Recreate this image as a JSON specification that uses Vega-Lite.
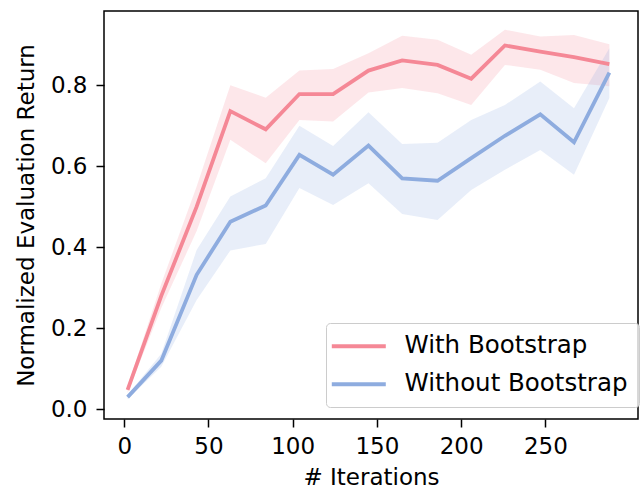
{
  "$schema": "https://vega.github.io/schema/vega-lite/v6.json",
  "width": 534,
  "height": 408,
  "autosize": {"type": "none"},
  "padding": {"left": 104, "top": 11, "right": 3, "bottom": 74},
  "background": "white",
  "config": {
    "font": "DejaVu Sans",
    "view": {"stroke": "black", "strokeWidth": 1.5},
    "axis": {
      "grid": false,
      "domain": false,
      "tickColor": "black",
      "tickWidth": 1.5,
      "tickSize": 8,
      "labelColor": "black",
      "labelFontSize": 23,
      "titleColor": "black",
      "titleFontSize": 23,
      "titleFontWeight": "normal"
    }
  },
  "data": {
    "values": [
      {"method": "With Bootstrap", "iter": 2, "mean": 0.048, "lo": 0.040, "hi": 0.056},
      {"method": "With Bootstrap", "iter": 22, "mean": 0.28, "lo": 0.25, "hi": 0.31},
      {"method": "With Bootstrap", "iter": 43, "mean": 0.50, "lo": 0.44, "hi": 0.55},
      {"method": "With Bootstrap", "iter": 63, "mean": 0.736, "lo": 0.665, "hi": 0.80},
      {"method": "With Bootstrap", "iter": 84, "mean": 0.691, "lo": 0.607, "hi": 0.769},
      {"method": "With Bootstrap", "iter": 104, "mean": 0.778, "lo": 0.714, "hi": 0.836},
      {"method": "With Bootstrap", "iter": 124, "mean": 0.778, "lo": 0.710, "hi": 0.840},
      {"method": "With Bootstrap", "iter": 145, "mean": 0.836, "lo": 0.782, "hi": 0.879},
      {"method": "With Bootstrap", "iter": 165, "mean": 0.861, "lo": 0.793, "hi": 0.922},
      {"method": "With Bootstrap", "iter": 186, "mean": 0.850, "lo": 0.780, "hi": 0.912},
      {"method": "With Bootstrap", "iter": 206, "mean": 0.816, "lo": 0.751, "hi": 0.875},
      {"method": "With Bootstrap", "iter": 226, "mean": 0.898, "lo": 0.850, "hi": 0.937},
      {"method": "With Bootstrap", "iter": 247, "mean": 0.883, "lo": 0.838, "hi": 0.920},
      {"method": "With Bootstrap", "iter": 267, "mean": 0.869, "lo": 0.805, "hi": 0.924},
      {"method": "With Bootstrap", "iter": 288, "mean": 0.852, "lo": 0.797, "hi": 0.901},
      {"method": "Without Bootstrap", "iter": 2, "mean": 0.030, "lo": 0.025, "hi": 0.035},
      {"method": "Without Bootstrap", "iter": 22, "mean": 0.12, "lo": 0.105, "hi": 0.137},
      {"method": "Without Bootstrap", "iter": 43, "mean": 0.332, "lo": 0.270, "hi": 0.393},
      {"method": "Without Bootstrap", "iter": 63, "mean": 0.463, "lo": 0.392, "hi": 0.525},
      {"method": "Without Bootstrap", "iter": 84, "mean": 0.503, "lo": 0.408, "hi": 0.570},
      {"method": "Without Bootstrap", "iter": 104, "mean": 0.628, "lo": 0.546, "hi": 0.700},
      {"method": "Without Bootstrap", "iter": 124, "mean": 0.579, "lo": 0.504, "hi": 0.650},
      {"method": "Without Bootstrap", "iter": 145, "mean": 0.651, "lo": 0.558, "hi": 0.733},
      {"method": "Without Bootstrap", "iter": 165, "mean": 0.570, "lo": 0.482, "hi": 0.655},
      {"method": "Without Bootstrap", "iter": 186, "mean": 0.564, "lo": 0.467, "hi": 0.658},
      {"method": "Without Bootstrap", "iter": 206, "mean": 0.620, "lo": 0.541, "hi": 0.714},
      {"method": "Without Bootstrap", "iter": 226, "mean": 0.675, "lo": 0.591, "hi": 0.751},
      {"method": "Without Bootstrap", "iter": 247, "mean": 0.728, "lo": 0.640, "hi": 0.809},
      {"method": "Without Bootstrap", "iter": 267, "mean": 0.659, "lo": 0.579, "hi": 0.743},
      {"method": "Without Bootstrap", "iter": 288, "mean": 0.831, "lo": 0.768, "hi": 0.891}
    ]
  },
  "encoding": {
    "x": {
      "field": "iter",
      "type": "quantitative",
      "title": "# Iterations",
      "scale": {"domain": [-12, 305], "nice": false, "zero": false},
      "axis": {"values": [0, 50, 100, 150, 200, 250], "labelPadding": 8, "titlePadding": 8}
    }
  },
  "layer": [
    {
      "mark": {"type": "area", "opacity": 0.2},
      "encoding": {
        "y": {
          "field": "lo",
          "type": "quantitative",
          "title": "Normalized Evaluation Return",
          "scale": {"domain": [-0.024, 0.983], "nice": false, "zero": false},
          "axis": {"values": [0, 0.2, 0.4, 0.6, 0.8], "format": ".1f", "labelPadding": 9, "titlePadding": 12}
        },
        "y2": {"field": "hi"},
        "fill": {
          "field": "method",
          "type": "nominal",
          "scale": {"domain": ["Without Bootstrap", "With Bootstrap"], "range": ["#8EACDF", "#F58896"]},
          "legend": null
        }
      }
    },
    {
      "mark": {"type": "line", "strokeWidth": 3.8},
      "encoding": {
        "y": {"field": "mean", "type": "quantitative"},
        "stroke": {
          "field": "method",
          "type": "nominal",
          "scale": {"domain": ["With Bootstrap", "Without Bootstrap"], "range": ["#F58896", "#8EACDF"]},
          "legend": {
            "title": null,
            "orient": "none",
            "legendX": 222,
            "legendY": 312,
            "symbolType": "M-1.94,0H4.06",
            "symbolSize": 324,
            "symbolStrokeWidth": 3.8,
            "labelFontSize": 24.5,
            "labelColor": "black",
            "labelLimit": 0,
            "labelOffset": 43,
            "padding": 11,
            "rowPadding": 13,
            "fillColor": "rgba(255,255,255,0.8)",
            "strokeColor": "#cccccc",
            "cornerRadius": 4
          }
        }
      }
    }
  ]
}
